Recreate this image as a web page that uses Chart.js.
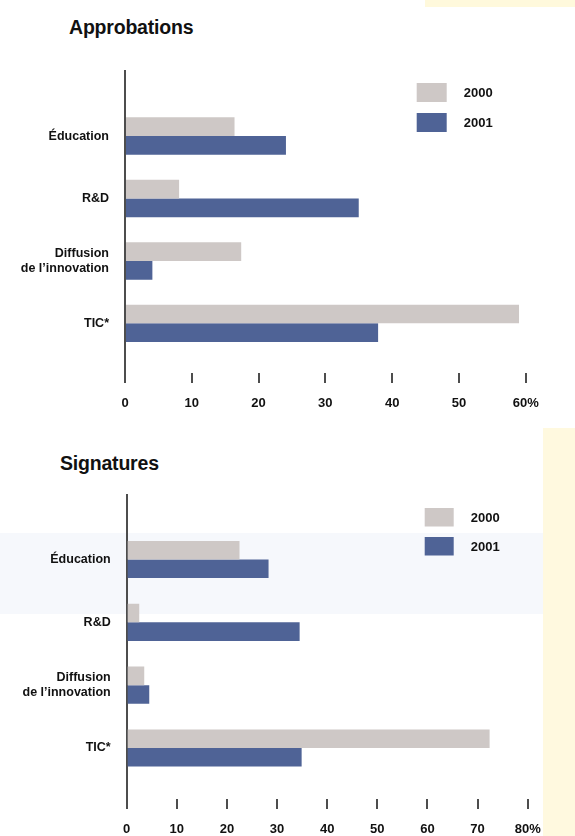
<!DOCTYPE html>
<html lang="fr">
<head>
<meta charset="utf-8">
<title>Approbations et signatures</title>
<script src="https://cdn.jsdelivr.net/npm/chart.js@4/dist/chart.umd.min.js"></script>
<style>
  html, body { margin: 0; padding: 0; background: #ffffff; }
  body { position: relative; width: 575px; height: 836px; overflow: hidden; font-family: "Liberation Sans", Arial, sans-serif; }
  .tint { position: absolute; }
  .title { position: absolute; font-weight: bold; font-size: 19.5px; line-height: 19.5px; color: #111; white-space: nowrap; letter-spacing: -0.2px; }
  canvas { position: absolute; left: 0; }
</style>
</head>
<body>
<div class="tint" style="left:425px;top:0;width:150px;height:7px;background:#fff9dc;"></div>
<div class="tint" style="left:0;top:533px;width:543px;height:81px;background:#f6f8fc;"></div>
<div class="tint" style="left:543px;top:428px;width:32px;height:408px;background:#fff9df;"></div>

<div class="title" style="left:69px;top:18px;">Approbations</div>
<div class="title" style="left:60px;top:454px;">Signatures</div>

<canvas id="approbations" width="575" height="420" style="top:0;"></canvas>
<canvas id="signatures" width="575" height="411" style="top:425px;"></canvas>

<script>
// Categories (multi-line labels as arrays) and series names
const categories = [['Éducation'], ['R&D'], ['Diffusion', 'de l’innovation'], ['TIC*']];
const seriesLabels = ['2000', '2001'];

// Approbations, share in %
const approb2000 = [16.4, 8.1, 17.4, 59.0];
const approb2001 = [24.1, 35.0, 4.1, 37.9];

// Signatures, share in %
const sign2000 = [22.5, 2.5, 3.5, 72.4];
const sign2001 = [28.3, 34.5, 4.5, 34.9];

// Value-axis ticks
const approbTicks = [0, 10, 20, 30, 40, 50, 60];
const approbTickLabels = ['0', '10', '20', '30', '40', '50', '60%'];
const signTicks = [0, 10, 20, 30, 40, 50, 60, 70, 80];
const signTickLabels = ['0', '10', '20', '30', '40', '50', '60', '70', '80%'];

const seriesColours = ['#cec8c6', '#4f6396'];
const inkColour = '#111111';
const axisColour = '#4d4d4d';

Chart.defaults.font.family = '"Liberation Sans", Arial, sans-serif';
Chart.defaults.font.weight = 'bold';
Chart.defaults.color = inkColour;

// Small stacked key: one swatch + label per dataset, anchored to the plot's top-right corner
const swatchLegend = {
  id: 'swatchLegend',
  afterDraw(chart, args, opts) {
    const { ctx, chartArea, data } = chart;
    const x = chartArea.right + opts.dx;
    const y0 = chartArea.top + opts.dy;
    ctx.save();
    ctx.font = 'bold ' + opts.fontSize + 'px "Liberation Sans", Arial, sans-serif';
    ctx.textBaseline = 'middle';
    ctx.textAlign = 'left';
    data.datasets.forEach((ds, i) => {
      const y = y0 + i * opts.rowGap;
      ctx.fillStyle = ds.backgroundColor;
      ctx.fillRect(x, y, opts.boxWidth, opts.boxHeight);
      ctx.fillStyle = inkColour;
      ctx.fillText(ds.label, x + opts.boxWidth + opts.textGap, y + opts.boxHeight / 2 + 1);
    });
    ctx.restore();
  }
};

function makeChart(canvasId, v2000, v2001, tickValues, tickLabels, geo) {
  const series = [v2000, v2001];
  return new Chart(document.getElementById(canvasId), {
    type: 'bar',
    data: {
      datasets: series.map((values, s) => ({
        label: seriesLabels[s],
        data: categories.map((c, i) => ({ x: values[i], y: i })),
        backgroundColor: seriesColours[s],
        borderWidth: 0
      }))
    },
    options: {
      indexAxis: 'y',
      responsive: false,
      animation: false,
      devicePixelRatio: 1,
      categoryPercentage: geo.catPct,
      barPercentage: 1,
      layout: { padding: geo.padding },
      plugins: {
        legend: { display: false },
        tooltip: { enabled: false },
        swatchLegend: geo.key
      },
      scales: {
        x: {
          type: 'linear',
          min: tickValues[0],
          max: tickValues[tickValues.length - 1],
          afterBuildTicks: (scale) => { scale.ticks = tickValues.map(v => ({ value: v })); },
          afterFit: (scale) => { scale.height = geo.xHeight; },
          ticks: {
            callback: (value, index) => tickLabels[index],
            padding: 13,
            maxRotation: 0,
            font: { size: 13, weight: 'bold' },
            color: inkColour
          },
          grid: { drawOnChartArea: false, drawTicks: true, tickLength: 10, lineWidth: 2, color: axisColour },
          border: { display: false }
        },
        y: {
          type: 'linear',
          reverse: true,
          offset: false,
          min: geo.yMin,
          max: geo.yMax,
          afterBuildTicks: (scale) => { scale.ticks = categories.map((c, i) => ({ value: i })); },
          afterFit: (scale) => { scale.width = geo.yWidth; },
          ticks: {
            callback: (value, index) => categories[index],
            padding: 16,
            font: { size: 12.5, weight: 'bold', lineHeight: 1.24 },
            color: inkColour
          },
          grid: { display: false, drawTicks: false, offset: false },
          border: { display: true, color: axisColour, width: 2 }
        }
      }
    },
    plugins: [swatchLegend]
  });
}

makeChart('approbations', approb2000, approb2001, approbTicks, approbTickLabels, {
  padding: { top: 71, right: 49.3, bottom: 7, left: 0 },
  xHeight: 40,
  yWidth: 125,
  yMin: -1.042,
  yMax: 3.795,
  catPct: 0.6,
  key: { dx: -109, dy: 12, boxWidth: 30, boxHeight: 19, rowGap: 30, textGap: 17, fontSize: 13 }
});

makeChart('signatures', sign2000, sign2001, signTicks, signTickLabels, {
  padding: { top: 70, right: 47.3, bottom: 3, left: 0 },
  xHeight: 34,
  yWidth: 126.7,
  yMin: -1.029,
  yMax: 3.814,
  catPct: 0.59,
  key: { dx: -103, dy: 13, boxWidth: 29, boxHeight: 18.5, rowGap: 29, textGap: 17, fontSize: 13 }
});
</script>
</body>
</html>
